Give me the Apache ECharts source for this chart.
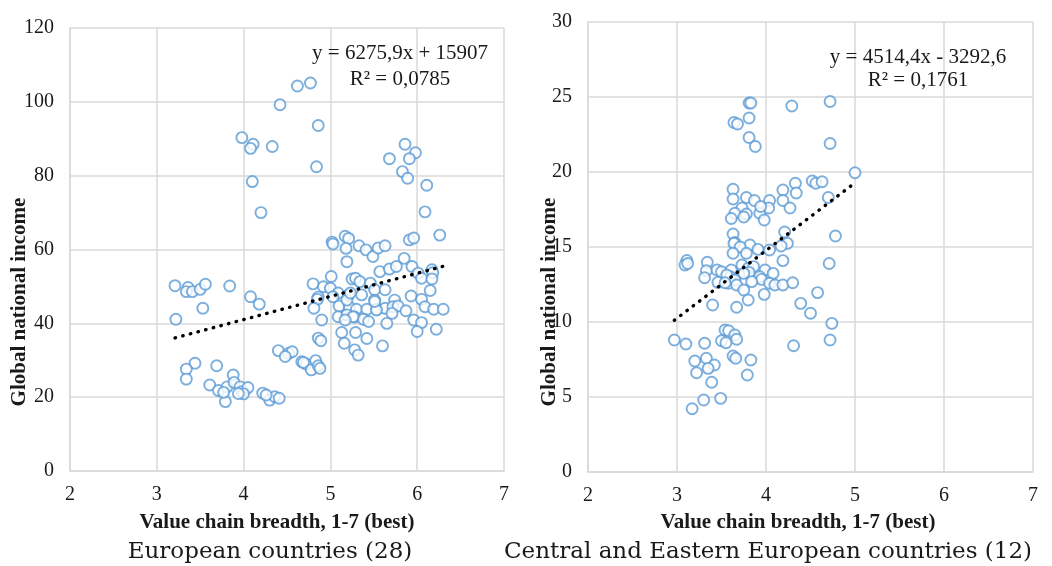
<!DOCTYPE html>
<html><head><meta charset="utf-8">
<script src="https://cdn.jsdelivr.net/npm/echarts@6/dist/echarts.min.js"></script>
<style>html,body{margin:0;padding:0;background:#fff}#c{width:1052px;height:566px}</style>
</head><body><div id="c"></div>
<script>
const xTicks = [2, 3, 4, 5, 6, 7];
const euYTicks = [0, 20, 40, 60, 80, 100, 120];
const ceeYTicks = [0, 5, 10, 15, 20, 25, 30];

const euData = [
  [4.62,104.3],[4.77,105.1],[4.42,99.2],[4.86,93.6],[3.98,90.3],[4.11,88.5],[4.08,87.4],[4.33,87.9],[4.84,82.4],[4.10,78.4],[4.20,70.0],
  [5.86,88.5],[5.98,86.2],[5.68,84.6],[5.91,84.6],[5.83,81.1],[5.89,79.3],[6.11,77.4],[6.09,70.2],[6.26,63.9],
  [5.02,62.0],[5.03,61.5],[5.17,63.6],[5.21,63.0],[5.18,60.3],[5.33,61.0],[5.41,59.9],[5.49,58.1],[5.55,60.4],[5.63,61.0],[5.91,62.6],[5.96,63.1],[5.19,56.7],[5.85,57.6],
  [5.57,54.0],[5.68,54.7],[5.76,55.4],[5.94,55.4],[6.17,54.5],[6.18,53.7],[6.01,53.6],[5.01,52.7],[5.25,52.0],[5.29,52.2],[6.05,52.2],[6.17,52.0],[4.80,50.7],[4.92,49.9],[5.34,51.3],[5.46,50.9],[5.51,49.1],[5.63,49.1],[5.00,49.5],[6.15,48.9],[5.93,47.4],
  [4.86,47.1],[5.09,48.2],[5.21,47.7],[5.36,47.7],[5.51,46.3],[4.85,46.5],[6.05,46.5],[5.74,46.3],[5.10,44.7],[4.81,44.1],[5.22,44.4],[5.30,43.8],[5.42,43.8],[5.54,43.8],[5.63,44.1],[5.72,44.5],[5.78,44.7],[6.09,44.5],[6.19,43.8],[6.30,43.8],[5.87,43.4],[5.71,42.7],
  [5.09,41.8],[5.19,42.3],[5.28,41.7],[5.38,41.1],[5.44,40.5],[5.65,40.0],[4.90,40.9],[5.96,40.9],[6.05,40.2],[5.53,43.6],[5.26,41.8],[5.17,40.9],[5.51,45.9],[5.03,47.2],[5.19,46.3],[5.23,48.2],
  [6.00,37.8],[6.22,38.4],[5.13,37.5],[5.29,37.5],[5.42,35.9],[5.16,34.6],[5.60,33.9],[5.28,32.8],[5.32,31.4],[4.86,36.0],[4.89,35.3],
  [4.40,32.6],[4.52,31.9],[4.56,32.3],[4.48,31.0],[4.67,29.6],[4.72,29.0],[4.69,29.4],[4.78,27.4],[4.83,29.9],[4.86,28.5],[4.88,27.8],
  [3.21,50.2],[3.36,49.7],[3.34,48.6],[3.41,48.6],[3.50,49.2],[3.56,50.6],[3.84,50.1],[4.08,47.2],[4.18,45.2],[3.53,44.1],[3.22,41.1],
  [3.44,29.2],[3.34,27.6],[3.34,24.9],[3.69,28.5],[3.88,26.0],[3.61,23.3],[3.71,21.8],[3.81,22.8],[3.79,18.8],[3.89,24.0],[3.96,22.8],[3.98,21.5],[4.05,22.6],[4.00,20.9],[3.77,21.3],[4.22,21.1],[4.30,19.2],[4.36,20.1],[4.41,19.7],[4.26,20.6],[3.94,21.0]
];

const ceeData = [
  [3.81,24.6],[3.83,24.6],[4.29,24.4],[4.72,24.7],[3.64,23.3],[3.68,23.2],[3.81,23.6],[3.81,22.3],[3.88,21.7],[4.72,21.9],
  [5.0,19.95],[4.52,19.4],[4.56,19.25],[4.63,19.35],[4.33,19.25],[4.34,18.6],[4.19,18.8],[4.19,18.1],[4.27,17.6],[4.70,18.3],[3.63,18.85],[3.63,18.2],[3.78,18.3],[3.87,18.1],[4.04,18.1],[4.03,17.6],[3.73,17.6],[3.65,17.25],[3.78,17.2],[3.75,17.0],[3.61,16.9],[3.93,17.25],[3.98,16.8],[3.94,17.7],
  [4.78,15.73],[3.63,15.87],[3.65,15.3],[4.21,16.0],[4.24,15.24],[4.17,15.07],[3.82,15.13],[3.91,14.84],[4.04,14.8],[3.64,15.24],[3.71,15.0],[3.63,14.58],[3.78,14.58],[4.19,14.09],[4.71,13.9],
  [3.11,14.1],[3.09,13.8],[3.12,13.9],[3.34,13.98],[3.33,13.42],[3.31,12.95],[3.45,13.47],[3.50,13.35],[3.46,12.64],[3.58,12.58],[3.61,13.47],[3.60,13.02],[3.65,12.8],[3.67,12.47],[3.73,13.8],[3.80,13.58],[3.86,13.69],[3.81,13.31],[3.75,13.24],[3.99,13.47],[4.08,13.24],[3.93,13.02],[3.95,12.84],[4.04,12.58],[4.10,12.47],[4.19,12.47],[4.30,12.62],[3.75,12.13],[3.84,12.69],[3.80,11.47],[3.98,11.84],[3.67,10.98],[3.40,11.13],[4.39,11.24],[4.58,11.96],[4.50,10.58],[4.74,9.91],[3.56,13.13],[3.54,12.62],
  [2.97,8.8],[3.10,8.53],[3.31,8.58],[3.54,9.47],[3.58,9.42],[3.65,9.13],[3.67,8.85],[3.50,8.75],[3.55,8.62],[4.31,8.42],[4.72,8.8],[3.63,7.73],[3.66,7.58],[3.83,7.47],[3.20,7.4],[3.33,7.58],[3.42,7.13],[3.22,6.62],[3.35,6.91],[3.79,6.47],[3.39,5.98],[3.30,4.8],[3.49,4.91],[3.17,4.22]
];

// trend line coefficients [slope, intercept] in axis units (thousands)
const euTrend = [6.2759, 15.907];
const ceeTrend = [4.5144, -3.2926];
const euEquation = ['y = 6275,9x + 15907', 'R² = 0,0785'];
const ceeEquation = ['y = 4514,4x - 3292,6', 'R² = 0,1761'];
const xTitle = 'Value chain breadth, 1-7 (best)';
const yTitle = 'Global national income';
const captions = ['European countries (28)', 'Central and Eastern European countries (12)'];

function trendPoints(data, coef) {
  const xs = data.map(d => d[0]);
  const lo = Math.min(...xs), hi = Math.max(...xs);
  return [[lo, coef[0] * lo + coef[1]], [hi, coef[0] * hi + coef[1]]];
}

const SERIF = '"Liberation Serif", "Times New Roman", serif';
const gridCol = '#d9d9d9';
const txtCol = '#1a1a1a';

function xAxis(gi) {
  return {
    type: 'value', gridIndex: gi, min: 2, max: 7, interval: 1,
    axisLine: { show: true, lineStyle: { color: gridCol, width: 1.5 } },
    axisTick: { show: false },
    splitLine: { show: true, lineStyle: { color: gridCol, width: 1.5 } },
    axisLabel: { color: txtCol, fontFamily: SERIF, fontSize: 20, margin: 14,
      formatter: v => xTicks.includes(v) ? String(v) : '' }
  };
}
function yAxis(gi, ticks) {
  return {
    type: 'value', gridIndex: gi, min: ticks[0], max: ticks[ticks.length - 1], interval: ticks[1] - ticks[0],
    axisLine: { show: true, lineStyle: { color: gridCol, width: 1.5 } },
    axisTick: { show: false },
    splitLine: { show: true, lineStyle: { color: gridCol, width: 1.5 } },
    axisLabel: { color: txtCol, fontFamily: SERIF, fontSize: 20, margin: 16,
      formatter: v => ticks.includes(v) ? String(v) : '' }
  };
}
const scatterStyle = { color: '#fff', borderColor: '#5b9bd5', borderWidth: 1.9 };
const trendStyle = { color: '#000', width: 3.4, type: [0.5, 7.4], cap: 'round' };

function txt(x, y, text, size, extra, rot) {
  const style = Object.assign({ text: text, fontFamily: SERIF, fontSize: size, fill: txtCol, align: 'center', verticalAlign: 'middle' }, extra || {});
  return { type: 'text', x: x, y: y, rotation: rot || 0, silent: true, z: 100, style: style };
}

const chart = echarts.init(document.getElementById('c'), null, { renderer: 'canvas' });
chart.setOption({
  backgroundColor: '#fff',
  animation: false,
  grid: [
    { left: 70, top: 28, width: 434, height: 443 },
    { left: 588, top: 22, width: 445, height: 450 }
  ],
  xAxis: [xAxis(0), xAxis(1)],
  yAxis: [yAxis(0, euYTicks), yAxis(1, ceeYTicks)],
  series: [
    { type: 'scatter', xAxisIndex: 0, yAxisIndex: 0, data: euData, symbol: 'circle', symbolSize: 11, itemStyle: scatterStyle, z: 2 },
    { type: 'line', xAxisIndex: 0, yAxisIndex: 0, data: trendPoints(euData, euTrend), symbol: 'none', lineStyle: trendStyle, z: 5 },
    { type: 'scatter', xAxisIndex: 1, yAxisIndex: 1, data: ceeData, symbol: 'circle', symbolSize: 11, itemStyle: scatterStyle, z: 2 },
    { type: 'line', xAxisIndex: 1, yAxisIndex: 1, data: trendPoints(ceeData, ceeTrend), symbol: 'none', lineStyle: trendStyle, z: 5 }
  ],
  graphic: [
    txt(400, 53, euEquation[0], 21),
    txt(400, 79, euEquation[1], 21),
    txt(918, 57, ceeEquation[0], 21),
    txt(918, 80, ceeEquation[1], 21),
    txt(277, 523, xTitle, 21, { fontWeight: 'bold' }),
    txt(798, 523, xTitle, 21, { fontWeight: 'bold' }),
    txt(20, 302, yTitle, 21, { fontWeight: 'bold' }, Math.PI / 2),
    txt(550, 302, yTitle, 21, { fontWeight: 'bold' }, Math.PI / 2),
    txt(270, 552, captions[0], 23, { fontFamily: '"DejaVu Serif", serif' }),
    txt(768, 552, captions[1], 23, { fontFamily: '"DejaVu Serif", serif' })
  ]
});
</script></body></html>
